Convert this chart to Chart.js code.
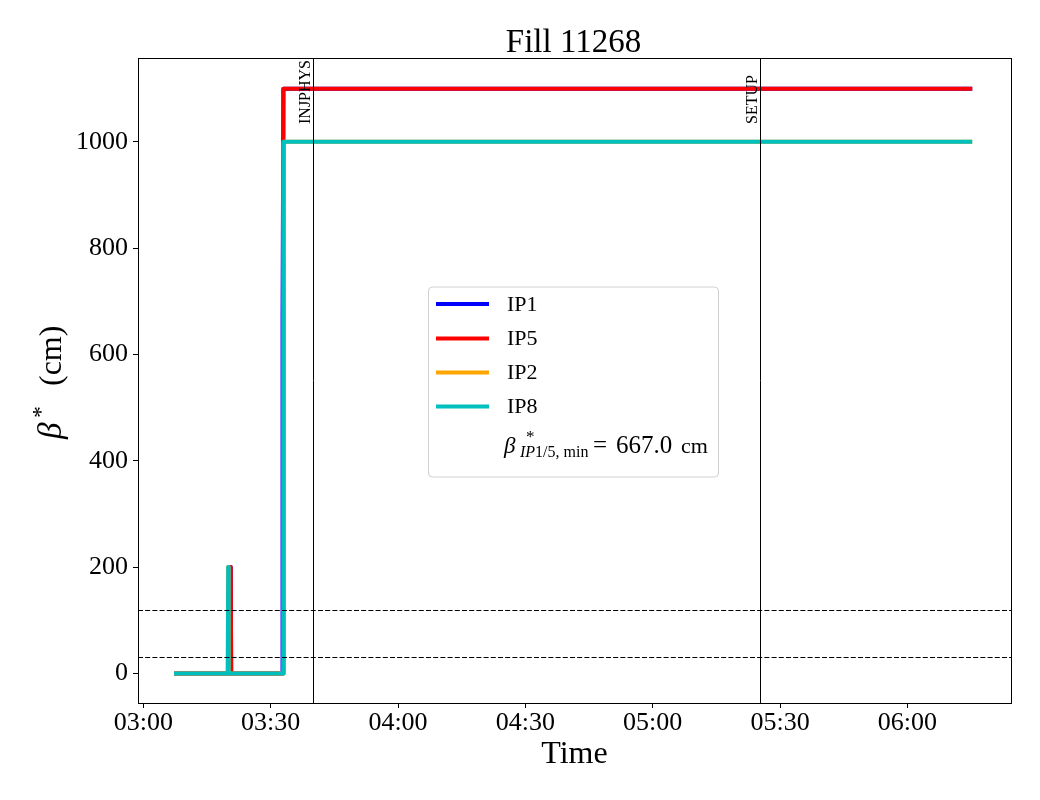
<!DOCTYPE html>
<html>
<head>
<meta charset="utf-8">
<title>Fill 11268</title>
<script src="https://cdn.jsdelivr.net/npm/chart.js@4.4.1/dist/chart.umd.min.js"></script>
<style>
    html, body { margin: 0; padding: 0; background: #ffffff; }
    #chart { display: block; }
</style>
</head>
<body>
<canvas id="chart" width="1040" height="800"></canvas>
<script>
// Chart data (times are minutes after midnight)
const fillTitle = 'Fill 11268';
const xTickMinutes = [180, 210, 240, 270, 300, 330, 360];
const xTickLabels = ['03:00', '03:30', '04:00', '04:30', '05:00', '05:30', '06:00'];
const yTickValues = [0, 200, 400, 600, 800, 1000];

const ip1Times = [187.7, 200.5, 200.6, 200.7, 212.75, 212.8, 213.0, 374.8];
const ip1Beta  = [0, 0, 200, 0, 0, 667, 1100, 1100];
const ip5Times = [187.7, 200.5, 200.6, 200.7, 212.95, 213.0, 374.8];
const ip5Beta  = [0, 0, 200, 0, 0, 1100, 1100];
const ip2Times = [187.7, 199.9, 200.0, 200.1, 213.0, 213.05, 374.8];
const ip2Beta  = [0, 0, 200, 0, 0, 1000, 1000];
const ip8Times = [187.7, 199.9, 200.0, 200.1, 213.0, 213.05, 374.8];
const ip8Beta  = [0, 0, 200, 0, 0, 1000, 1000];

const modeNames = ['INJPHYS', 'SETUP'];
const modeTimes = [220.0, 325.3];
const limitLines = [30, 120];
const betaMinValue = '667.0';

const SERIF = '"Liberation Serif", "Times New Roman", serif';

function toPoints(times, values) {
    return times.map((t, i) => ({ x: t, y: values[i] }));
}

function makeSeries(label, times, values, color, order) {
    return {
        label: label,
        data: toPoints(times, values),
        borderColor: color,
        backgroundColor: color,
        borderWidth: 4,
        borderCapStyle: 'square',
        borderJoinStyle: 'round',
        pointRadius: 0,
        tension: 0,
        fill: false,
        order: order
    };
}

// Lines and text drawn on top of the data
const decorPlugin = {
    id: 'decor',
    afterDatasetsDraw(chart) {
        const ctx = chart.ctx;
        const area = chart.chartArea;
        const xs = chart.scales.x;
        const ys = chart.scales.y;

        ctx.save();
        ctx.strokeStyle = '#000';
        ctx.lineWidth = 1;

        // mode change lines
        modeTimes.forEach((t, i) => {
            const px = Math.round(xs.getPixelForValue(t)) + 0.5;
            ctx.beginPath();
            ctx.moveTo(px, area.top);
            ctx.lineTo(px, area.bottom);
            ctx.stroke();

            ctx.save();
            ctx.translate(px - 4, 124);
            ctx.rotate(-Math.PI / 2);
            ctx.fillStyle = '#000';
            ctx.font = '16px ' + SERIF;
            ctx.textAlign = 'left';
            ctx.textBaseline = 'alphabetic';
            ctx.fillText(modeNames[i], 0, 0);
            ctx.restore();
        });

        // dashed beta limits
        ctx.setLineDash([5, 2.2]);
        limitLines.forEach(v => {
            const py = Math.round(ys.getPixelForValue(v)) + 0.5;
            ctx.beginPath();
            ctx.moveTo(area.left, py);
            ctx.lineTo(area.right, py);
            ctx.stroke();
        });
        ctx.setLineDash([]);

        // frame
        ctx.strokeRect(Math.round(area.left) + 0.5, Math.round(area.top) + 0.5,
            Math.round(area.right - area.left), Math.round(area.bottom - area.top));
        ctx.restore();
    },
    afterDraw(chart) {
        const ctx = chart.ctx;
        const area = chart.chartArea;
        const cx = (area.left + area.right) / 2;

        ctx.save();
        ctx.fillStyle = '#000';

        // title
        ctx.font = '33px ' + SERIF;
        ctx.textAlign = 'center';
        ctx.textBaseline = 'alphabetic';
        ctx.fillText(fillTitle, cx - 1, 52);

        // x axis title
        ctx.font = '32px ' + SERIF;
        ctx.fillText('Time', cx, 763);

        // y axis title: beta* (cm), reading upwards
        ctx.save();
        ctx.translate(61, 439);
        ctx.rotate(-Math.PI / 2);
        ctx.textAlign = 'left';
        ctx.font = 'italic 33px ' + SERIF;
        ctx.fillText('β', 0, 0);
        ctx.font = '24px ' + SERIF;
        ctx.fillText('*', 21, -13);
        ctx.font = '32px ' + SERIF;
        ctx.fillText('(cm)', 53, 0);
        ctx.restore();

        // legend box
        const lx = 428.5, ly = 287, lw = 290, lh = 190;
        ctx.beginPath();
        ctx.roundRect(lx, ly, lw, lh, 4);
        ctx.fillStyle = 'rgba(255,255,255,0.85)';
        ctx.fill();
        ctx.strokeStyle = '#d0d0d0';
        ctx.lineWidth = 1;
        ctx.stroke();

        const entries = chart.data.datasets;
        const rowY = [304, 338.5, 372.5, 406.5];
        ctx.font = '22px ' + SERIF;
        ctx.textBaseline = 'middle';
        ctx.textAlign = 'left';
        entries.forEach((ds, i) => {
            ctx.strokeStyle = ds.borderColor;
            ctx.lineWidth = 4;
            ctx.beginPath();
            ctx.moveTo(436, rowY[i]);
            ctx.lineTo(489, rowY[i]);
            ctx.stroke();
            ctx.fillStyle = '#000';
            ctx.fillText(ds.label, 507, rowY[i] + 1);
        });

        // beta min entry
        ctx.textBaseline = 'alphabetic';
        ctx.fillStyle = '#000';
        const base = 453;
        ctx.font = 'italic 23px ' + SERIF;
        ctx.fillText('β', 504, base);
        ctx.font = '17px ' + SERIF;
        ctx.fillText('*', 526, base - 11);
        ctx.font = 'italic 16px ' + SERIF;
        ctx.fillText('IP', 520, base + 4);
        let sx = 520 + ctx.measureText('IP').width;
        ctx.font = '16px ' + SERIF;
        ctx.fillText('1/5, min', sx, base + 4);
        ctx.font = '25px ' + SERIF;
        ctx.fillText('=', 593, base);
        ctx.font = '25px ' + SERIF;
        ctx.fillText(betaMinValue, 616, base);
        ctx.font = '22px ' + SERIF;
        ctx.fillText('cm', 681, base);

        ctx.restore();
    }
};

const ctx = document.getElementById('chart');

new Chart(ctx, {
    type: 'line',
    data: {
        datasets: [
            makeSeries('IP1', ip1Times, ip1Beta, '#0000ff', 4),
            makeSeries('IP5', ip5Times, ip5Beta, '#ff0000', 3),
            makeSeries('IP2', ip2Times, ip2Beta, '#ffa500', 2),
            makeSeries('IP8', ip8Times, ip8Beta, '#00bfbf', 1)
        ]
    },
    options: {
        responsive: false,
        animation: false,
        layout: {
            padding: { top: 58, right: 29, bottom: 0, left: 0 }
        },
        plugins: {
            legend: { display: false },
            title: { display: false },
            tooltip: { enabled: false }
        },
        scales: {
            x: {
                type: 'linear',
                min: 178.75,
                max: 384.4,
                afterFit: (axis) => { axis.height = 97; },
                afterBuildTicks: (axis) => {
                    axis.ticks = xTickMinutes.map(v => ({ value: v }));
                },
                grid: {
                    drawOnChartArea: false,
                    drawTicks: true,
                    tickLength: 5,
                    tickColor: '#000'
                },
                border: { display: true, color: '#000', width: 1 },
                ticks: {
                    color: '#000',
                    font: { family: SERIF, size: 26 },
                    padding: 0,
                    maxRotation: 0,
                    autoSkip: false,
                    callback: (value, index) => xTickLabels[index]
                }
            },
            y: {
                type: 'linear',
                min: -55.7,
                max: 1157.8,
                afterFit: (axis) => { axis.width = 138; },
                afterBuildTicks: (axis) => {
                    axis.ticks = yTickValues.map(v => ({ value: v }));
                },
                grid: {
                    drawOnChartArea: false,
                    drawTicks: true,
                    tickLength: 5,
                    tickColor: '#000'
                },
                border: { display: true, color: '#000', width: 1 },
                ticks: {
                    color: '#000',
                    font: { family: SERIF, size: 26 },
                    padding: 5,
                    autoSkip: false,
                    callback: (value) => String(value)
                }
            }
        }
    },
    plugins: [decorPlugin]
});
</script>
</body>
</html>
